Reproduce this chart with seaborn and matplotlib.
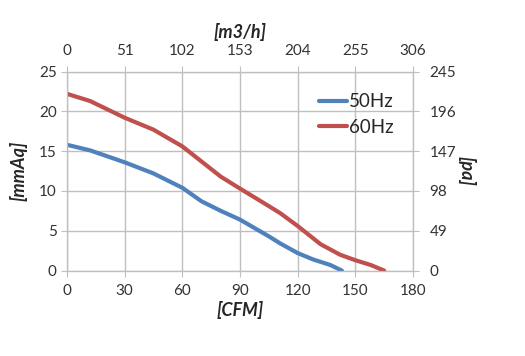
import pandas as pd
import matplotlib
matplotlib.use('Agg')
import matplotlib.pyplot as plt
import seaborn as sns

# values
cfm_50 = [0, 12, 30, 45, 60, 70, 80, 90, 105, 111, 120, 128, 137, 143]
mmaq_50 = [15.8, 15.1, 13.6, 12.2, 10.4, 8.7, 7.5, 6.4, 4.3, 3.4, 2.2, 1.4, 0.7, 0.0]
cfm_60 = [0, 12, 30, 45, 60, 70, 80, 90, 105, 111, 120, 132, 142, 150, 158, 165]
mmaq_60 = [22.2, 21.3, 19.2, 17.7, 15.6, 13.7, 11.8, 10.3, 8.1, 7.2, 5.6, 3.3, 2.0, 1.3, 0.7, 0.0]

cfm_ticks = [0, 30, 60, 90, 120, 150, 180]
mmaq_ticks = [0, 5, 10, 15, 20, 25]
m3h_ticks = [0, 51, 102, 153, 204, 255, 306]
pa_ticks = [0, 49, 98, 147, 196, 245]

df = pd.concat([
    pd.DataFrame({'CFM': cfm_50, 'mmAq': mmaq_50, 'freq': '50Hz'}),
    pd.DataFrame({'CFM': cfm_60, 'mmAq': mmaq_60, 'freq': '60Hz'}),
])

sns.set_style('white')
plt.rcParams['font.family'] = ['Lato', 'DejaVu Sans']

grid_col = '#bfbfbf'
fig = plt.figure(figsize=(5.25, 3.56), dpi=100)
ax = fig.add_axes([0.1276, 0.240, 0.659, 0.559])

sns.lineplot(data=df, x='CFM', y='mmAq', hue='freq', sort=False,
             palette={'50Hz': '#4f81bd', '60Hz': '#c0504d'},
             linewidth=3, ax=ax, zorder=3)

ax.set_xlim(0, 180)
ax.set_ylim(0, 25)
ax.set_xticks(cfm_ticks)
ax.set_yticks(mmaq_ticks)
ax.grid(True, color=grid_col, linewidth=1)
ax.set_axisbelow(True)
for s in ax.spines.values():
    s.set_color(grid_col)
ax.tick_params(axis='both', which='both', length=4, color=grid_col,
               labelsize=11, labelcolor='#333333', direction='out')
ax.tick_params(axis='x', pad=6)
ax.set_xlabel('[CFM]', fontsize=13, fontweight='bold', fontstyle='italic', labelpad=2)
ax.set_ylabel('[mmAq]', fontsize=13, fontweight='bold', fontstyle='italic', labelpad=8)

leg = ax.legend(loc='upper left', bbox_to_anchor=(0.68, 0.975), frameon=False,
                fontsize=13.5, handlelength=1.5, handletextpad=0.1,
                labelspacing=0.45)

axr = ax.twinx()
axr.set_ylim(0, 245)
axr.set_yticks(pa_ticks)
axr.tick_params(axis='y', length=4, color=grid_col, labelsize=11,
                labelcolor='#333333', pad=8)
axr.set_ylabel('[pa]', fontsize=13, fontweight='bold', fontstyle='italic',
               rotation=270, labelpad=14)

axt = ax.twiny()
axt.set_xlim(0, 306)
axt.set_xticks(m3h_ticks)
axt.tick_params(axis='x', length=4, color=grid_col, labelsize=11,
                labelcolor='#333333', pad=6)
axt.set_xlabel('[m3/h]', fontsize=13, fontweight='bold', fontstyle='italic', labelpad=4)

for a in (axr, axt):
    for s in a.spines.values():
        s.set_color(grid_col)

fig.savefig('out.png', dpi=100, facecolor='white')
